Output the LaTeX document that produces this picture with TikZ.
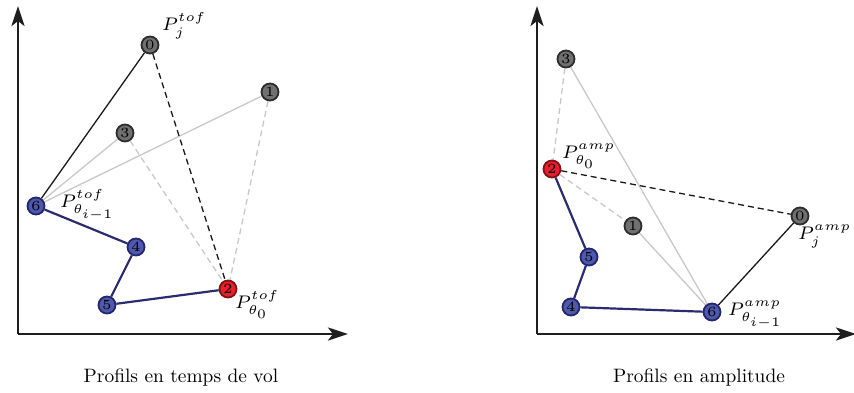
\documentclass[tikz,border=0pt]{standalone}
\usepackage{graphicx}
\usetikzlibrary{arrows.meta,backgrounds}
\definecolor{ngray}{RGB}{112,112,112}
\definecolor{ngrayd}{RGB}{45,45,45}
\definecolor{nblue}{RGB}{78,88,172}
\definecolor{nblued}{RGB}{36,38,110}
\definecolor{nred}{RGB}{232,32,44}
\definecolor{nredd}{RGB}{130,18,22}
\definecolor{lgray}{RGB}{200,200,200}
\definecolor{pathblue}{RGB}{42,44,112}
\definecolor{axcol}{RGB}{30,30,30}
\newcommand{\Dgt}[1]{\scalebox{2.8}{\tiny #1}}
\newcommand{\Lbl}[1]{\scalebox{2.6}{\scriptsize $#1$}}
\newcommand{\Cpt}[1]{\scalebox{1.94}{#1}}
\tikzset{
  pt/.style={circle,draw,line width=1.8pt,minimum size=17pt,inner sep=0pt},
  gpt/.style={pt,fill=ngray,draw=ngrayd},
  bpt/.style={pt,fill=nblue,draw=nblued},
  rpt/.style={pt,fill=nred,draw=nredd},
  axis/.style={line width=2.6pt,draw=axcol,-{Stealth[length=20pt,width=13pt,inset=5pt]}},
  blk/.style={line width=1.3pt,draw=black!90},
  blkdash/.style={blk,dash pattern=on 6pt off 4pt},
  gry/.style={line width=1.3pt,draw=lgray},
  grydash/.style={gry,dash pattern=on 6pt off 4pt},
  pth/.style={line width=2.2pt,draw=pathblue},
  lab/.style={anchor=base west,inner sep=0pt},
  captext/.style={inner sep=0pt}
}
\begin{document}
\begin{tikzpicture}[x=1pt,y=-1pt]
\useasboundingbox (0,0) rectangle (854,392);
% left axes
\coordinate (Lo) at (18,334);
\coordinate (Ly) at (18,6);
\coordinate (Lx) at (348,334);
\draw[axis] (Lo) -- (Ly);
\draw[axis] (Lo) -- (Lx);
% left nodes
\node[gpt] (L0) at (150,45) {\Dgt{0}};
\node[gpt] (L1) at (270,92) {\Dgt{1}};
\node[gpt] (L3) at (125,133) {\Dgt{3}};
\node[bpt] (L6) at (36,206) {\Dgt{6}};
\node[bpt] (L4) at (136,247) {\Dgt{4}};
\node[bpt] (L5) at (107,305) {\Dgt{5}};
\node[rpt] (L2) at (228,289) {\Dgt{2}};
\begin{scope}[on background layer]
\draw[gry] (L6) -- (L3);
\draw[gry] (L6) -- (L1);
\draw[grydash] (L3) -- (L2);
\draw[grydash] (L1) -- (L2);
\draw[blk] (L6) -- (L0);
\draw[blkdash] (L0) -- (L2);
\draw[pth] (L6) -- (L4) -- (L5) -- (L2);
\end{scope}
\node[lab] (Lj) at (162,30) {\Lbl{P_j^{tof}}};
\node[lab] (Li) at (60,207) {\Lbl{P_{\theta_{i-1}}^{tof}}};
\node[lab] (L0l) at (235,308) {\Lbl{P_{\theta_0}^{tof}}};
\node[captext] (Lcap) at (181,378) {\Cpt{Profils en temps de vol}};
% right axes
\coordinate (Ro) at (537,334);
\coordinate (Ry) at (537,6);
\coordinate (Rx) at (856,334);
\draw[axis] (Ro) -- (Ry);
\draw[axis] (Ro) -- (Rx);
% right nodes
\node[gpt] (R3) at (566,59) {\Dgt{3}};
\node[rpt] (R2) at (552,169) {\Dgt{2}};
\node[gpt] (R1) at (633,226) {\Dgt{1}};
\node[gpt] (R0) at (800,216) {\Dgt{0}};
\node[bpt] (R5) at (589,257) {\Dgt{5}};
\node[bpt] (R4) at (571,307) {\Dgt{4}};
\node[bpt] (R6) at (712,312) {\Dgt{6}};
\begin{scope}[on background layer]
\draw[grydash] (R3) -- (R2);
\draw[gry] (R3) -- (R6);
\draw[gry] (R1) -- (R6);
\draw[grydash] (R2) -- (R1);
\draw[blkdash] (R2) -- (R0);
\draw[blk] (R6) -- (R0);
\draw[pth] (R2) -- (R5) -- (R4) -- (R6);
\end{scope}
\node[lab] (R0l) at (562,158) {\Lbl{P_{\theta_0}^{amp}}};
\node[lab] (Rj) at (798,239) {\Lbl{P_j^{amp}}};
\node[lab] (Ri) at (728,315) {\Lbl{P_{\theta_{i-1}}^{amp}}};
\node[captext] (Rcap) at (699,378) {\Cpt{Profils en amplitude}};
\end{tikzpicture}
\end{document}
